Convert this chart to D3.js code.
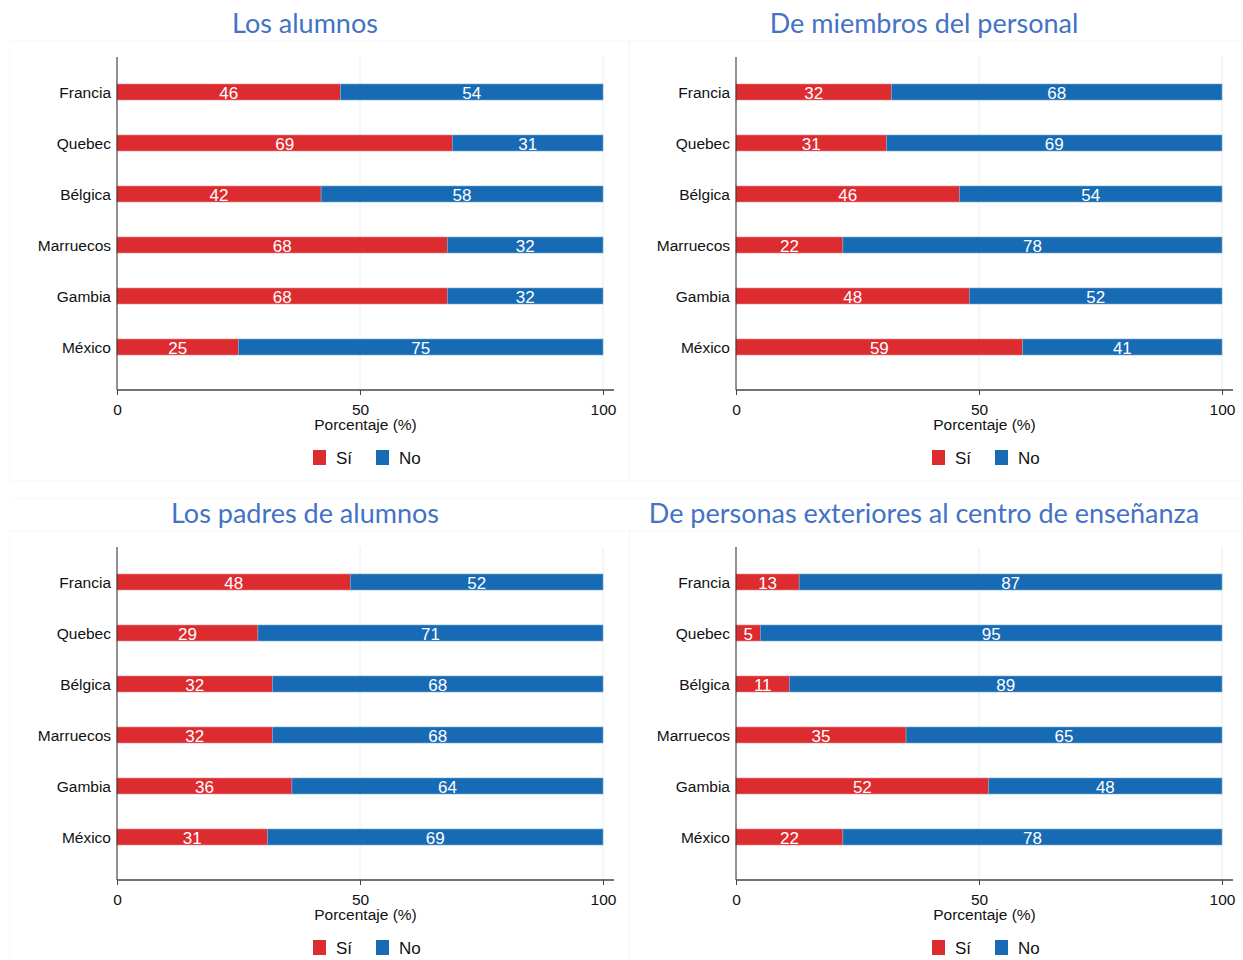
<!DOCTYPE html>
<html><head><meta charset="utf-8">
<script src="https://cdn.jsdelivr.net/npm/d3@7"></script>
<style>body{margin:0;background:#fff}</style>
</head><body>
<script>
const categories = ["Francia","Quebec","Bélgica","Marruecos","Gambia","México"];
const titles = ["Los alumnos","De miembros del personal","Los padres de alumnos","De personas exteriores al centro de enseñanza"];
const si1 = [46,69,42,68,68,25], no1 = [54,31,58,32,32,75];
const si2 = [32,31,46,22,48,59], no2 = [68,69,54,78,52,41];
const si3 = [48,29,32,32,36,31], no3 = [52,71,68,68,64,69];
const si4 = [13,5,11,35,52,22], no4 = [87,95,89,65,48,78];
const ticks = [0,50,100];
const legendLabels = ["Sí","No"];
const axisTitle = "Porcentaje (%)";

const panels = [
  {title:titles[0], si:si1, no:no1, ox:0, oy:0},
  {title:titles[1], si:si2, no:no2, ox:619, oy:0},
  {title:titles[2], si:si3, no:no3, ox:0, oy:490},
  {title:titles[3], si:si4, no:no4, ox:619, oy:490}
];
const RED = "#DD2C30", BLUE = "#176AB4";

const svg = d3.select("body").append("svg").attr("width",1243).attr("height",960);

panels.forEach(p=>{
  const g = svg.append("g").attr("transform",`translate(${p.ox},${p.oy})`);
  g.append("rect").attr("x",10).attr("y",41).attr("width",620).attr("height",440)
   .attr("fill","none").attr("stroke","#f6f8f8");
  if (p.oy > 0) {
    g.append("line").attr("x1",10).attr("x2",630).attr("y1",8).attr("y2",8).attr("stroke","#f6f8f8");
  }
  g.append("text").attr("x",305).attr("y",33).attr("text-anchor","middle")
   .attr("font-family","Lato, 'Open Sans', sans-serif").attr("font-size",27)
   .attr("fill","#4472C4").text(p.title);

  const x = d3.scaleLinear().domain([0,100]).range([117,603]);
  const y = d3.scalePoint().domain(categories).range([92,347]);
  const top = 57, bottom = 390, bh = 16, axisEnd = 614;

  g.selectAll(".grid").data(ticks.slice(1)).join("line")
   .attr("x1",d=>x(d)).attr("x2",d=>x(d)).attr("y1",top).attr("y2",bottom)
   .attr("stroke","#e4eef0").attr("stroke-width",1);

  const rows = categories.map((c,i)=>({c, si:p.si[i], no:p.no[i]}));
  g.selectAll(".rs").data(rows).join("rect")
   .attr("x",x(0)).attr("y",d=>y(d.c)-bh/2).attr("width",d=>x(d.si)-x(0)).attr("height",bh)
   .attr("fill",RED).attr("stroke","#ec8a8c").attr("stroke-width",0.6);
  g.selectAll(".rn").data(rows).join("rect")
   .attr("x",d=>x(d.si)).attr("y",d=>y(d.c)-bh/2).attr("width",d=>x(d.si+d.no)-x(d.si)).attr("height",bh)
   .attr("fill",BLUE).attr("stroke","#7aaad4").attr("stroke-width",0.6);

  const lf = "'Liberation Sans', Arial, sans-serif";
  g.selectAll(".ls").data(rows).join("text")
   .attr("x",d=>(x(0)+x(d.si))/2).attr("y",d=>y(d.c)+7).attr("text-anchor","middle")
   .attr("font-family",lf).attr("font-size",17).attr("fill","#fff").text(d=>d.si);
  g.selectAll(".ln").data(rows).join("text")
   .attr("x",d=>(x(d.si)+x(d.si+d.no))/2).attr("y",d=>y(d.c)+7).attr("text-anchor","middle")
   .attr("font-family",lf).attr("font-size",17).attr("fill","#fff").text(d=>d.no);

  g.append("line").attr("x1",117).attr("x2",117).attr("y1",top).attr("y2",bottom)
   .attr("stroke","#222").attr("stroke-width",1);
  g.selectAll(".cat").data(categories).join("text")
   .attr("x",111).attr("y",d=>y(d)+6).attr("text-anchor","end")
   .attr("font-family",lf).attr("font-size",15.5).attr("fill","#111").text(d=>d);

  const xa = g.append("g").attr("transform",`translate(0,${bottom})`)
   .call(d3.axisBottom(x).tickValues(ticks).tickSize(5).tickPadding(9).tickSizeOuter(0));
  xa.select(".domain").attr("d",`M117,0H${axisEnd}`).attr("stroke","#444").attr("stroke-width",1.5);
  xa.selectAll(".tick line").attr("stroke","#444");
  xa.selectAll(".tick text").attr("font-family",lf).attr("font-size",15.5).attr("fill","#111");
  g.append("text").attr("x",(x(0)+axisEnd)/2).attr("y",430).attr("text-anchor","middle")
   .attr("font-family",lf).attr("font-size",15.5).attr("fill","#111").text(axisTitle);

  const lg = [{l:legendLabels[0],c:RED,x:313},{l:legendLabels[1],c:BLUE,x:376}];
  lg.forEach(d=>{
    g.append("rect").attr("x",d.x).attr("y",450).attr("width",13).attr("height",15).attr("fill",d.c);
    g.append("text").attr("x",d.x+23).attr("y",464).attr("font-family",lf).attr("font-size",17)
     .attr("fill","#111").text(d.l);
  });
});
</script>
</body></html>
